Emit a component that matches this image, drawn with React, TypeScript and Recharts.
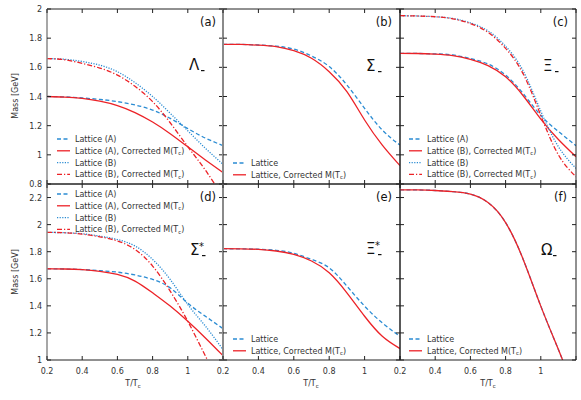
import React from "react";
import { LineChart, Line, XAxis, YAxis } from "recharts";

const BLUE = "#2b8cd3";
const RED = "#ec2227";
const DARK = "#222";
const GRAY = "#8a8a8a";
const FONT = "DejaVu Sans, sans-serif";

// reduced temperature T/Tc
const temps = [0.2, 0.3, 0.4, 0.5, 0.6, 0.7, 0.8, 0.9, 1.0, 1.1, 1.2];
const xTicks = [0.2, 0.4, 0.6, 0.8, 1.0, 1.2];
const yTicksTop = [0.8, 1.0, 1.2, 1.4, 1.6, 1.8, 2.0];
const yTicksBottom = [1.0, 1.2, 1.4, 1.6, 1.8, 2.0, 2.2];

// (a) Lambda
const lambdaLatA = [1.4, 1.397, 1.39, 1.38, 1.365, 1.342, 1.307, 1.25, 1.18, 1.115, 1.063];
const lambdaCorA = [1.4, 1.396, 1.387, 1.368, 1.338, 1.29, 1.225, 1.145, 1.055, 0.965, 0.878];
const lambdaLatB = [1.66, 1.655, 1.64, 1.615, 1.57, 1.495, 1.4, 1.285, 1.165, 1.045, 0.935];
const lambdaCorB = [1.66, 1.652, 1.627, 1.595, 1.547, 1.47, 1.365, 1.22, 1.056, 0.895, 0.71];
// (b) Sigma
const sigmaLat = [1.758, 1.757, 1.753, 1.745, 1.725, 1.678, 1.605, 1.479, 1.319, 1.17, 1.067];
const sigmaCor = [1.758, 1.757, 1.752, 1.742, 1.714, 1.662, 1.57, 1.433, 1.239, 1.067, 0.926];
// (c) Xi
const xiLatA = [1.696, 1.695, 1.692, 1.685, 1.66, 1.623, 1.547, 1.42, 1.27, 1.16, 1.063];
const xiCorA = [1.696, 1.695, 1.69, 1.68, 1.655, 1.612, 1.535, 1.405, 1.245, 1.105, 0.987];
const xiLatB = [1.954, 1.952, 1.947, 1.935, 1.905, 1.85, 1.745, 1.575, 1.3, 1.056, 0.907];
const xiCorB = [1.954, 1.952, 1.947, 1.933, 1.9, 1.84, 1.73, 1.555, 1.27, 1.0, 0.85];
// (d) Sigma*
const sigmaStLatA = [1.674, 1.672, 1.668, 1.66, 1.649, 1.628, 1.595, 1.533, 1.42, 1.323, 1.232];
const sigmaStCorA = [1.674, 1.672, 1.667, 1.655, 1.632, 1.583, 1.496, 1.398, 1.286, 1.163, 1.032];
const sigmaStLatB = [1.943, 1.94, 1.933, 1.915, 1.89, 1.842, 1.743, 1.595, 1.41, 1.25, 1.077];
const sigmaStCorB = [1.943, 1.94, 1.93, 1.91, 1.879, 1.817, 1.694, 1.509, 1.286, 1.03, 0.78];
// (e) Xi*
const xiStLat = [1.822, 1.821, 1.818, 1.81, 1.788, 1.743, 1.681, 1.546, 1.398, 1.274, 1.175];
const xiStCor = [1.822, 1.821, 1.817, 1.805, 1.78, 1.731, 1.644, 1.496, 1.323, 1.175, 1.084];
// (f) Omega
const omegaLat = [2.257, 2.256, 2.252, 2.243, 2.225, 2.163, 2.015, 1.743, 1.398, 1.077, 0.75];
const omegaCor = [2.257, 2.256, 2.252, 2.243, 2.225, 2.163, 2.015, 1.743, 1.398, 1.077, 0.75];

type Kind = "latA" | "corA" | "latB" | "corB" | "lat" | "cor";

const STYLES: Record<Kind, { stroke: string; dash?: string; width: number }> = {
  latA: { stroke: BLUE, dash: "4 2.5", width: 1.3 },
  corA: { stroke: RED, width: 1.3 },
  latB: { stroke: BLUE, dash: "1.2 1.4", width: 1.3 },
  corB: { stroke: RED, dash: "5 2 1.2 2", width: 1.3 },
  lat: { stroke: BLUE, dash: "4 2.5", width: 1.3 },
  cor: { stroke: RED, width: 1.3 },
};

const cols = [
  { x0: 47, x1: 223, left: { stroke: GRAY, strokeWidth: 1.5 }, right: { stroke: GRAY, strokeWidth: 2 } },
  { x0: 223, x1: 400, left: { stroke: GRAY, strokeWidth: 2 }, right: { stroke: DARK, strokeWidth: 1 } },
  { x0: 400, x1: 576, left: { stroke: DARK, strokeWidth: 1 }, right: { stroke: DARK, strokeWidth: 1 } },
];
const rows = [
  { y0: 9, y1: 184, domain: [0.8, 2.0], ticks: yTicksTop },
  { y0: 184, y1: 360, domain: [1.0, 2.3], ticks: yTicksBottom },
];

const fmt = (v: number) => String(Number(v.toFixed(1)));
const AX = 1; // axis thickness reserved in the margins

interface PanelProps {
  col: number;
  row: number;
  series: { kind: Kind; values: number[] }[];
}

function Panel({ col, row, series }: PanelProps) {
  const c = cols[col];
  const r = rows[row];
  const data = temps.map((t, i) => {
    const d: any = { t };
    series.forEach((s, j) => (d["s" + j] = s.values[i]));
    return d;
  });
  const showX = row === 1;
  const showY = col === 0;

  const bottomTick = (p: any) => (
    <g>
      <line x1={p.x} x2={p.x} y1={r.y1} y2={r.y1 - 4} stroke={DARK} />
      {showX && p.payload.value < 1.1 && (
        <text x={p.x} y={r.y1 + 14} textAnchor="middle" fontSize={8} fontFamily={FONT} fill="#333">
          {fmt(p.payload.value)}
        </text>
      )}
    </g>
  );
  const topTick = (p: any) => (
    <line x1={p.x} x2={p.x} y1={r.y0} y2={r.y0 + 4} stroke={DARK} />
  );
  const leftTick = (p: any) => (
    <g>
      <line x1={c.x0} x2={c.x0 + 4} y1={p.y} y2={p.y} stroke={DARK} />
      {showY && (
        <text x={c.x0 - 5} y={p.y + 3} textAnchor="end" fontSize={8} fontFamily={FONT} fill="#333">
          {fmt(p.payload.value)}
        </text>
      )}
    </g>
  );
  const rightTick = (p: any) => (
    <line x1={c.x1} x2={c.x1 - 4} y1={p.y} y2={p.y} stroke={DARK} />
  );

  return (
    <div style={{ position: "absolute", left: 0, top: 0 }}>
      <LineChart
        width={581}
        height={400}
        data={data}
        margin={{ top: r.y0 - AX, left: c.x0 - AX, right: 581 - c.x1 - AX, bottom: 400 - r.y1 - AX }}
      >
        <XAxis xAxisId="b" dataKey="t" type="number" domain={[0.2, 1.2]} ticks={xTicks} interval={0}
          orientation="bottom" height={AX} tickLine={false} axisLine={{ stroke: DARK }} tick={bottomTick} allowDataOverflow />
        <XAxis xAxisId="t" dataKey="t" type="number" domain={[0.2, 1.2]} ticks={xTicks} interval={0}
          orientation="top" height={AX} tickLine={false} axisLine={{ stroke: DARK }} tick={topTick} allowDataOverflow />
        <YAxis yAxisId="l" type="number" domain={r.domain} ticks={r.ticks} interval={0}
          orientation="left" width={AX} tickLine={false} axisLine={c.left} tick={leftTick} allowDataOverflow />
        <YAxis yAxisId="r" type="number" domain={r.domain} ticks={r.ticks} interval={0}
          orientation="right" width={AX} tickLine={false} axisLine={c.right} tick={rightTick} allowDataOverflow />
        {series.map((s, j) => {
          const st = STYLES[s.kind];
          return (
            <Line key={j} xAxisId="b" yAxisId="l" dataKey={"s" + j} type="natural" stroke={st.stroke}
              strokeDasharray={st.dash} strokeWidth={st.width} dot={false} isAnimationActive={false} />
          );
        })}
      </LineChart>
    </div>
  );
}

const CORR = "Corrected M(T";

function LegendBox({ x, y, items }: { x: number; y: number; items: { kind: Kind; label: string }[] }) {
  return (
    <g>
      {items.map((it, i) => {
        const st = STYLES[it.kind];
        const cy = y + i * 11.8;
        const corr = it.label.endsWith(CORR);
        return (
          <g key={i}>
            <line x1={x} x2={x + 13} y1={cy} y2={cy} stroke={st.stroke} strokeWidth={st.width}
              strokeDasharray={st.dash} />
            <text x={x + 18} y={cy + 3} fontSize={8} fontFamily={FONT} fill="#333">
              {it.label}
              {corr && (
                <>
                  <tspan fontSize={5.5} dy={1.5}>c</tspan>
                  <tspan dy={-1.5}>)</tspan>
                </>
              )}
            </text>
          </g>
        );
      })}
    </g>
  );
}

function Greek({ x, y, ch, star }: { x: number; y: number; ch: string; star?: boolean }) {
  return (
    <g fontFamily={FONT} fill="#111">
      <text x={x} y={y} fontSize={15}>{ch}</text>
      {star && <text x={x + 9} y={y - 5} fontSize={10}>*</text>}
      <rect x={x + 12} y={y} width={3.5} height={1.2} />
    </g>
  );
}

const fourA = [
  { kind: "latA" as Kind, label: "Lattice (A)" },
  { kind: "corA" as Kind, label: "Lattice (A), " + CORR },
  { kind: "latB" as Kind, label: "Lattice (B)" },
  { kind: "corB" as Kind, label: "Lattice (B), " + CORR },
];
const fourC = [
  { kind: "latA" as Kind, label: "Lattice (A)" },
  { kind: "corA" as Kind, label: "Lattice (B), " + CORR },
  { kind: "latB" as Kind, label: "Lattice (B)" },
  { kind: "corB" as Kind, label: "Lattice (B), " + CORR },
];
const two = [
  { kind: "lat" as Kind, label: "Lattice" },
  { kind: "cor" as Kind, label: "Lattice, " + CORR },
];

export default function App() {
  return (
    <div style={{ position: "absolute", left: 0, top: 0, width: 581, height: 400, background: "#fff" }}>
      <Panel col={0} row={0} series={[
        { kind: "latA", values: lambdaLatA }, { kind: "corA", values: lambdaCorA },
        { kind: "latB", values: lambdaLatB }, { kind: "corB", values: lambdaCorB },
      ]} />
      <Panel col={1} row={0} series={[
        { kind: "lat", values: sigmaLat }, { kind: "cor", values: sigmaCor },
      ]} />
      <Panel col={2} row={0} series={[
        { kind: "latA", values: xiLatA }, { kind: "corA", values: xiCorA },
        { kind: "latB", values: xiLatB }, { kind: "corB", values: xiCorB },
      ]} />
      <Panel col={0} row={1} series={[
        { kind: "latA", values: sigmaStLatA }, { kind: "corA", values: sigmaStCorA },
        { kind: "latB", values: sigmaStLatB }, { kind: "corB", values: sigmaStCorB },
      ]} />
      <Panel col={1} row={1} series={[
        { kind: "lat", values: xiStLat }, { kind: "cor", values: xiStCor },
      ]} />
      <Panel col={2} row={1} series={[
        { kind: "lat", values: omegaLat }, { kind: "cor", values: omegaCor },
      ]} />
      <svg width={581} height={400} style={{ position: "absolute", left: 0, top: 0, pointerEvents: "none" }}>
        <g fontFamily={FONT} fontSize={11.5} fill="#111" textAnchor="end">
          <text x={216} y={26}>(a)</text>
          <text x={392} y={26}>(b)</text>
          <text x={568} y={26}>(c)</text>
          <text x={216} y={201}>(d)</text>
          <text x={392} y={201}>(e)</text>
          <text x={567} y={201}>(f)</text>
        </g>
        <Greek x={189} y={70} ch="Λ" />
        <Greek x={366} y={71} ch="Σ" />
        <Greek x={543} y={71} ch="Ξ" />
        <Greek x={190} y={255} ch="Σ" star />
        <Greek x={366} y={254} ch="Ξ" star />
        <Greek x={541} y={255} ch="Ω" />
        <LegendBox x={57} y={139} items={fourA} />
        <LegendBox x={233} y={163} items={two} />
        <LegendBox x={409} y={139} items={fourC} />
        <LegendBox x={57} y={194} items={fourA} />
        <LegendBox x={233} y={339} items={two} />
        <LegendBox x={409} y={339} items={two} />
        <g fontFamily={FONT} fontSize={8} fill="#333">
          <text transform="translate(18,96) rotate(-90)" textAnchor="middle">Mass [GeV]</text>
          <text transform="translate(18,272) rotate(-90)" textAnchor="middle">Mass [GeV]</text>
          {[133, 311, 488].map((cx) => (
            <text key={cx} x={cx} y={386} textAnchor="middle">
              T/T<tspan fontSize={5.5} dy={1.5}>c</tspan>
            </text>
          ))}
        </g>
      </svg>
    </div>
  );
}
